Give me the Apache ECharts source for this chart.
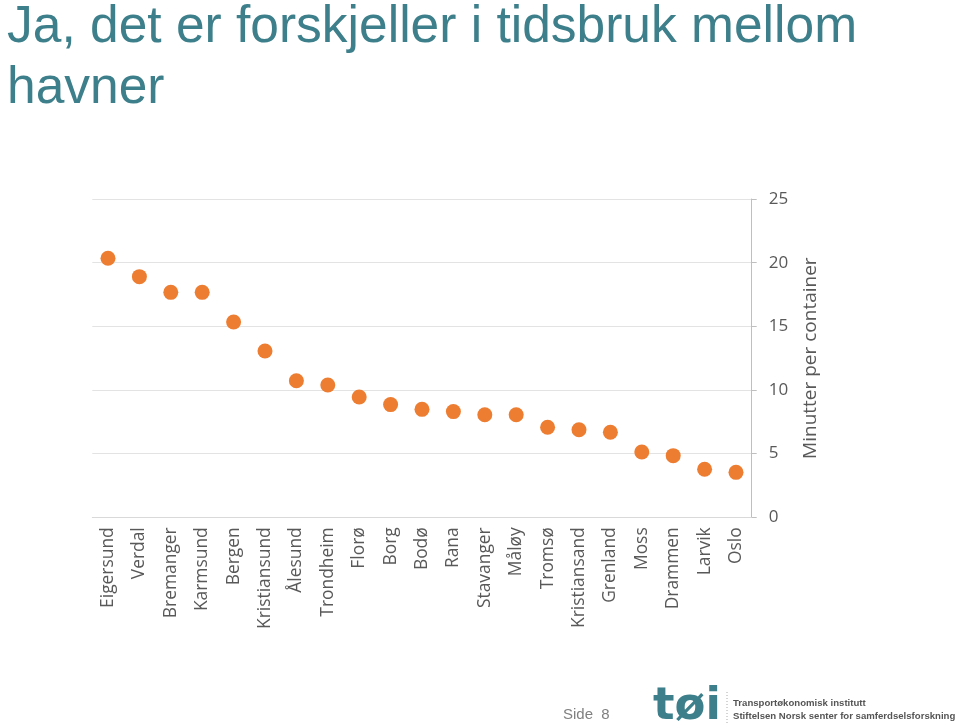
<!DOCTYPE html>
<html>
<head>
<meta charset="utf-8">
<script src="https://cdn.jsdelivr.net/npm/echarts@6/dist/echarts.min.js"></script>
<style>
html,body{margin:0;padding:0;background:#fff;}
#chart{width:960px;height:727px;}
</style>
</head>
<body>
<div id="chart"></div>
<script>
const categories = ["Eigersund","Verdal","Bremanger","Karmsund","Bergen","Kristiansund","Ålesund","Trondheim","Florø","Borg","Bodø","Rana","Stavanger","Måløy","Tromsø","Kristiansand","Grenland","Moss","Drammen","Larvik","Oslo"];
const minutesPerContainer = [20.35,18.9,17.67,17.67,15.34,13.06,10.73,10.39,9.45,8.85,8.48,8.3,8.06,8.05,7.07,6.88,6.68,5.13,4.84,3.77,3.53];
const yTicks = [0,5,10,15,20,25];
const titleText = "Ja, det er forskjeller i tidsbruk mellom\nhavner";
const yAxisName = "Minutter per container";

const chart = echarts.init(document.getElementById('chart'));
const labelFont = "'Open Sans', 'Noto Sans', sans-serif";
chart.setOption({
  backgroundColor: '#ffffff',
  animation: false,
  title: {
    text: titleText,
    left: 2, top: -8,
    textStyle: {fontFamily: "'Liberation Sans', Arial, sans-serif", fontWeight: 'normal', fontSize: 51.5, lineHeight: 61, color: '#3D7F8A'}
  },
  grid: {left: 92.3, right: 208.3, top: 199, bottom: 209.7, containLabel: false},
  xAxis: {
    type: 'category',
    data: categories,
    boundaryGap: true,
    axisLine: {show: true, lineStyle: {color: '#d9d9d9'}},
    axisTick: {show: false},
    axisLabel: {rotate: 90, margin: 10, fontFamily: labelFont, fontSize: 17.4, color: '#595959', interval: 0}
  },
  yAxis: {
    type: 'value',
    position: 'right',
    min: yTicks[0], max: yTicks[yTicks.length-1], interval: 5,
    name: yAxisName,
    nameLocation: 'middle',
    nameRotate: 90,
    nameGap: 49,
    nameTextStyle: {fontFamily: labelFont, fontSize: 19, color: '#595959'},
    axisLine: {show: true, lineStyle: {color: '#bfbfbf'}},
    axisTick: {show: true, length: 5, lineStyle: {color: '#bfbfbf'}},
    axisLabel: {margin: 17, fontFamily: labelFont, fontSize: 17, color: '#595959'},
    splitLine: {show: true, lineStyle: {color: '#e3e3e3'}}
  },
  series: [{
    type: 'scatter',
    data: minutesPerContainer,
    symbol: 'circle',
    symbolSize: 15,
    itemStyle: {color: '#ED7D31', opacity: 1}
  }],
  graphic: [
    {type: 'text', left: 563, top: 707, style: {text: 'Side  8', font: "15px 'Liberation Sans', Arial, sans-serif", fill: '#808080'}},
    {type: 'text', left: 653, top: 685, style: {text: 'tøi', font: "bold 45px 'DejaVu Sans', sans-serif", fill: '#3D7F8A'}},
    {type: 'line', shape: {x1: 727, y1: 692, x2: 727, y2: 724}, style: {stroke: '#aaaaaa', lineWidth: 1, lineDash: [1, 2]}},
    {type: 'text', left: 733, top: 698, style: {text: 'Transportøkonomisk institutt', font: "bold 9.6px 'Liberation Sans', sans-serif", fill: '#555555'}},
    {type: 'text', left: 733, top: 711, style: {text: 'Stiftelsen Norsk senter for samferdselsforskning', font: "bold 9.6px 'Liberation Sans', sans-serif", fill: '#555555'}}
  ]
});
</script>
</body>
</html>
